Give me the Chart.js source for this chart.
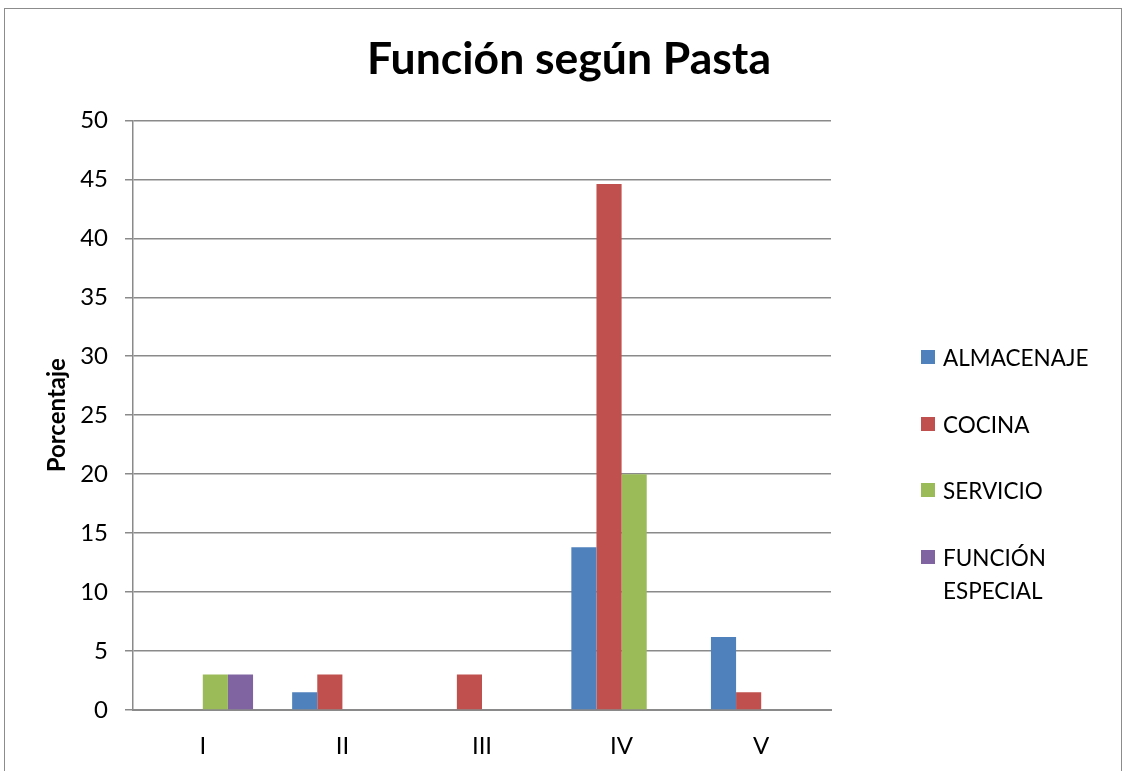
<!DOCTYPE html>
<html>
<head>
<meta charset="utf-8">
<script src="https://cdn.jsdelivr.net/npm/chart.js@4/dist/chart.umd.min.js"></script>
<style>
  body { margin: 0; background: #fff; }
  #wrap { position: relative; width: 1124px; height: 771px; overflow: hidden; }
  #frame { position: absolute; left: 4px; top: 8px; width: 1116px; height: 800px; border: 1px solid #8c8c8c; }
  #chart { position: absolute; left: 0; top: 0; }
  #legend { position: absolute; left: 921px; top: 341px; font-family: Lato, sans-serif; font-size: 22.5px; color: #000; }
  .item { position: absolute; left: 0; width: 200px; }
  .sw { position: absolute; left: 0; top: 9px; width: 14px; height: 14px; }
  .tx { position: absolute; left: 22px; top: 0; line-height: 33px; white-space: nowrap; }
</style>
</head>
<body>
<div id="wrap">
  <div id="frame"></div>
  <canvas id="chart" width="1124" height="771"></canvas>
  <div id="legend"></div>
</div>
<script>
const categories = ['I', 'II', 'III', 'IV', 'V'];
const seriesNames = ['ALMACENAJE', 'COCINA', 'SERVICIO', 'FUNCIÓN ESPECIAL'];
const almacenaje = [0, 1.5, 0, 13.8, 6.2];
const cocina = [0, 3, 3, 44.6, 1.5];
const servicio = [3, 0, 0, 20, 0];
const funcionEspecial = [3, 0, 0, 0, 0];
const colors = ['#4F81BD', '#C0504D', '#9BBB59', '#8064A2'];
const legendTops = [0, 67, 133, 200];

const values = [almacenaje, cocina, servicio, funcionEspecial];
const gridColor = '#8a8a8a';
const font = "Lato, 'Open Sans', sans-serif";

const ctx = document.getElementById('chart').getContext('2d');
new Chart(ctx, {
    type: 'bar',
    data: {
        labels: categories,
        datasets: seriesNames.map((name, i) => ({
            label: name,
            data: values[i],
            backgroundColor: colors[i],
            borderWidth: 0,
            categoryPercentage: 0.72,
            barPercentage: 1
        }))
    },
    options: {
        responsive: false,
        animation: false,
        layout: { padding: { left: 14, right: 0, top: 0, bottom: 0 } },
        plugins: {
            legend: { display: false },
            tooltip: { enabled: false },
            title: {
                display: true,
                text: 'Función según Pasta',
                color: '#000',
                font: { family: font, size: 44.5, weight: 'bold', lineHeight: 1.2 },
                padding: { top: 33, bottom: 34 }
            }
        },
        scales: {
            x: {
                grid: { display: false },
                border: { color: gridColor, width: 2 },
                ticks: { color: '#000', font: { family: font, size: 24 }, padding: 14 },
                afterFit: s => { s.height = 61; }
            },
            y: {
                min: 0,
                max: 50,
                ticks: { stepSize: 5, color: '#000', font: { family: font, size: 24 }, padding: 17 },
                grid: { color: gridColor, lineWidth: 1.5, tickLength: 8 },
                border: { color: gridColor, width: 1.5 },
                title: {
                    display: true,
                    text: 'Porcentaje',
                    color: '#000',
                    font: { family: font, size: 24, weight: 'bold' },
                    padding: { top: 29, bottom: 0 }
                },
                afterFit: s => { s.width = 119; }
            },
            // eje vacio para reservar el espacio de la leyenda
            y2: {
                position: 'right',
                min: 0,
                max: 50,
                ticks: { display: false },
                grid: { display: false },
                border: { display: false },
                afterFit: s => { s.width = 293; }
            }
        }
    }
});

// leyenda a la derecha
const legend = document.getElementById('legend');
seriesNames.forEach((name, i) => {
    const item = document.createElement('div');
    item.className = 'item';
    item.style.top = legendTops[i] + 'px';
    const words = name === 'FUNCIÓN ESPECIAL' ? 'FUNCIÓN<br>ESPECIAL' : name;
    item.innerHTML = '<div class="sw" style="background:' + colors[i] + '"></div><div class="tx">' + words + '</div>';
    legend.appendChild(item);
});
</script>
</body>
</html>
